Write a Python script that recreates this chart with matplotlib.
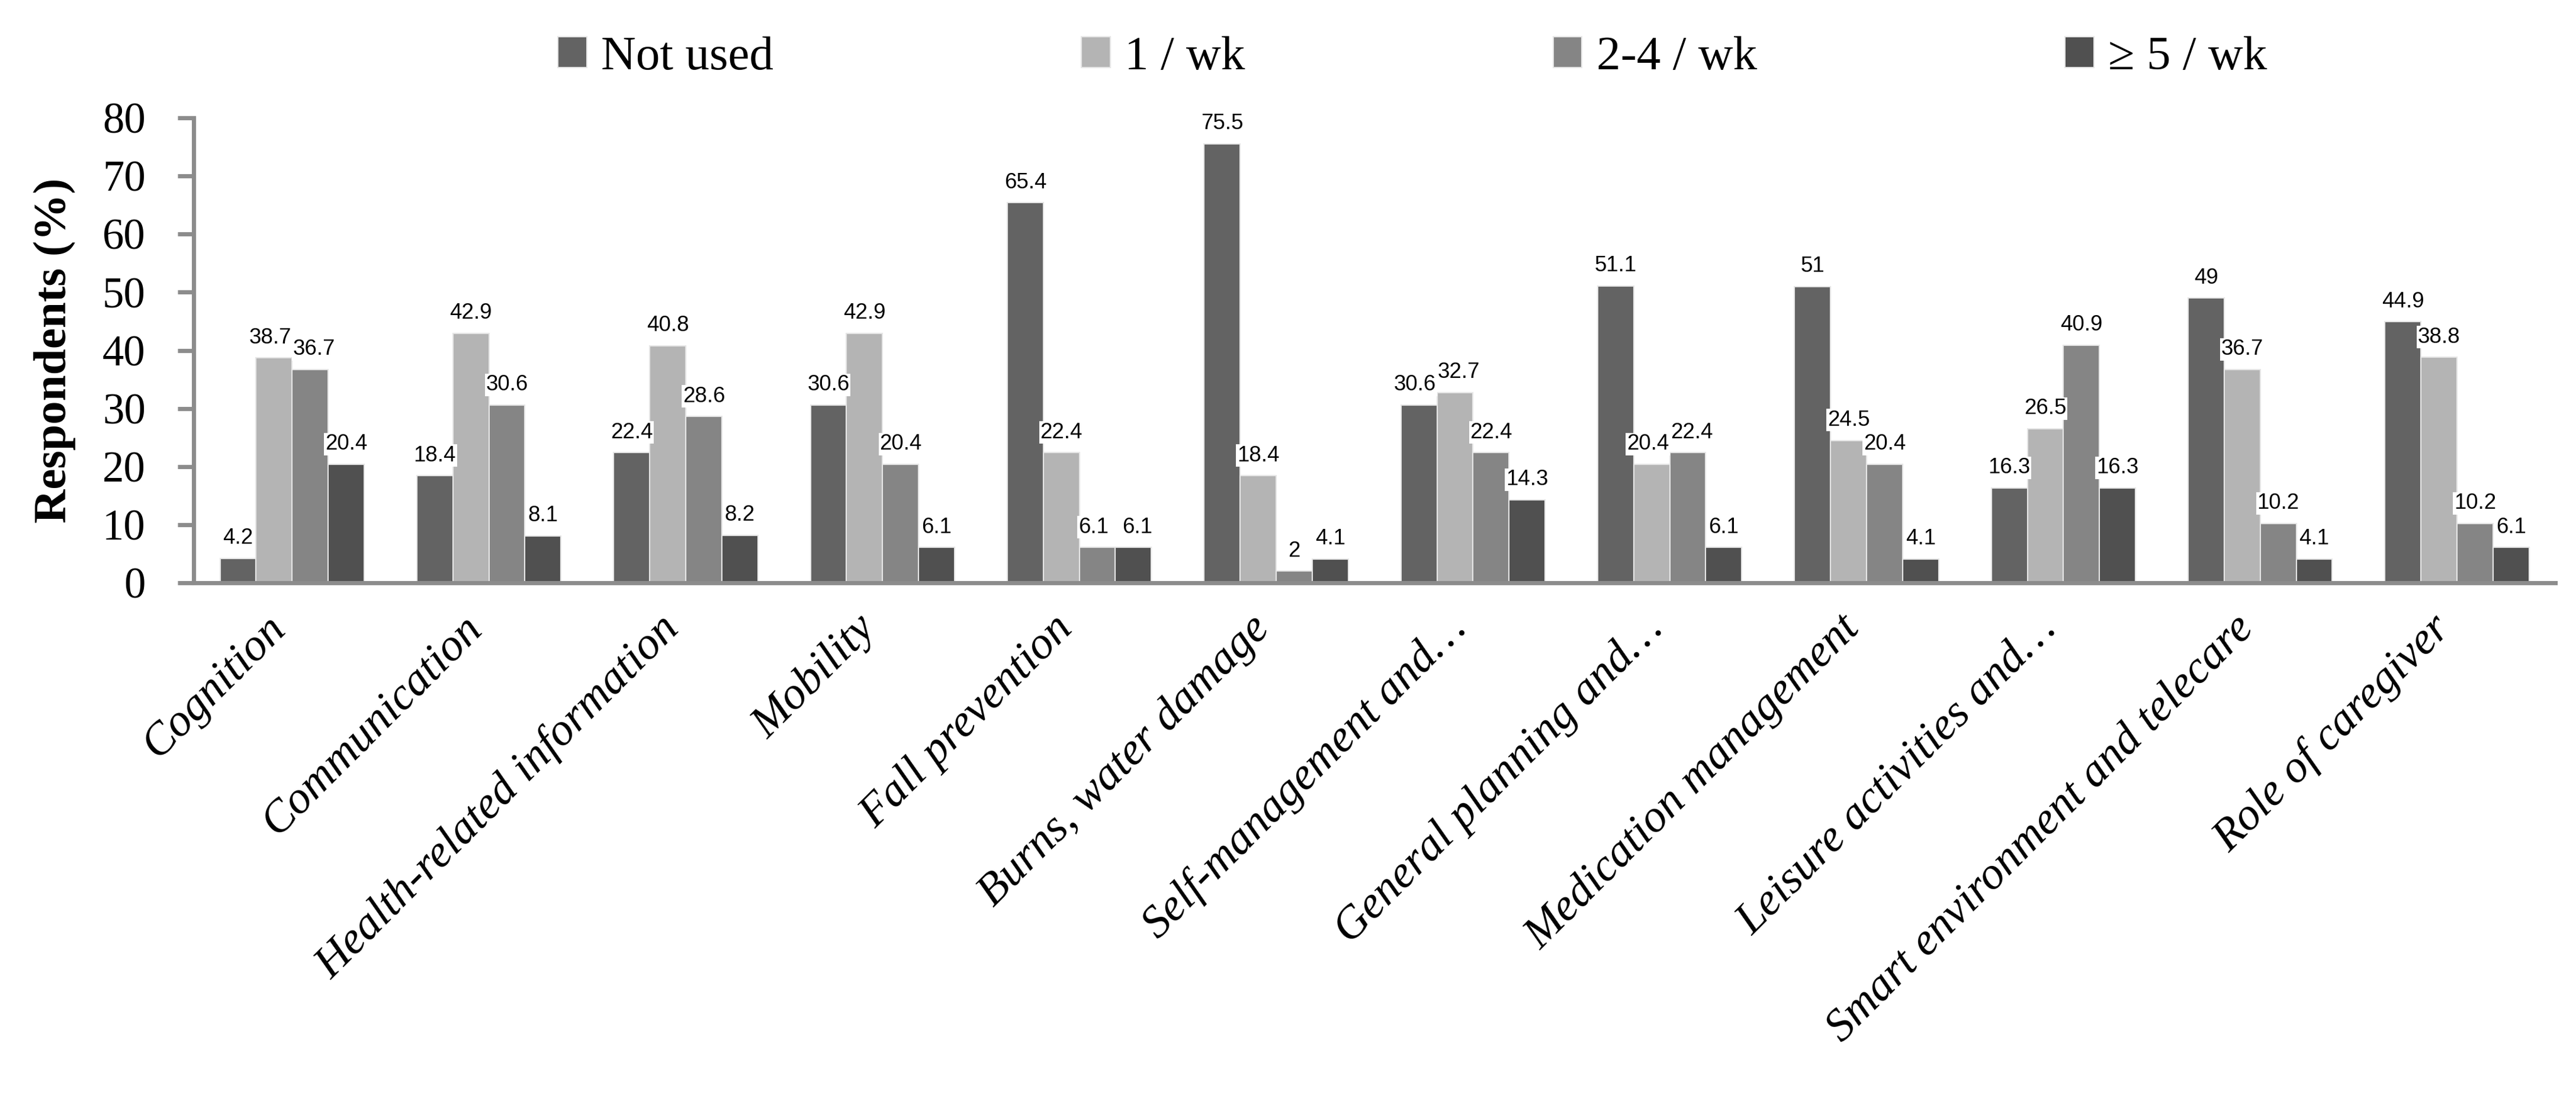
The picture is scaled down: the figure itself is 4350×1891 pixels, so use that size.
import matplotlib
matplotlib.use('Agg')
import matplotlib.pyplot as plt
import matplotlib.transforms as mtransforms
import numpy as np

categories = ['Cognition', 'Communication', 'Health-related information', 'Mobility',
              'Fall prevention', 'Burns, water damage', 'Self-management and\u2026',
              'General planning and\u2026', 'Medication management',
              'Leisure activities and\u2026', 'Smart environment and telecare',
              'Role of caregiver']
series_names = ['Not used', '1 / wk', '2-4 / wk', '\u2265 5 / wk']
not_used = [4.2, 18.4, 22.4, 30.6, 65.4, 75.5, 30.6, 51.1, 51, 16.3, 49, 44.9]
once_wk = [38.7, 42.9, 40.8, 42.9, 22.4, 18.4, 32.7, 20.4, 24.5, 26.5, 36.7, 38.8]
two_four_wk = [36.7, 30.6, 28.6, 20.4, 6.1, 2, 22.4, 22.4, 20.4, 40.9, 10.2, 10.2]
five_plus_wk = [20.4, 8.1, 8.2, 6.1, 6.1, 4.1, 14.3, 6.1, 4.1, 16.3, 4.1, 6.1]
y_ticks = [0, 10, 20, 30, 40, 50, 60, 70, 80]

colors = ['#636363', '#b4b4b4', '#858585', '#505050']
serif = ['Liberation Serif', 'DejaVu Serif']
label_font = ['Liberation Sans', 'DejaVu Sans']
axis_grey = '#8c8c8c'

fig = plt.figure(figsize=(14.5, 1891 / 300), dpi=300)
ax = fig.add_axes([0.0752, 0.4796, 0.9168, 0.4152])

x = np.arange(len(categories))
width = 0.183
all_series = [not_used, once_wk, two_four_wk, five_plus_wk]
vals_arr = np.array(all_series)

# small sideways nudge for neighbouring labels at about the same height
nudge = np.zeros_like(vals_arr)
for g in range(len(categories)):
    for i in range(3):
        a, b = vals_arr[i, g], vals_arr[i + 1, g]
        if abs(a - b) < 3.5 and min(a, b) >= 3:
            nudge[i, g] -= 1.6
            nudge[i + 1, g] += 1.6

for i, (name, vals) in enumerate(zip(series_names, all_series)):
    pos = x + (i - 1.5) * width
    bars = ax.bar(pos, vals, width, color=colors[i], edgecolor='#e6e6e6',
                  linewidth=0.5, label=name, zorder=2)
    for g, (b, v) in enumerate(zip(bars, vals)):
        ax.annotate(f'{v:g}', (b.get_x() + b.get_width() / 2, v),
                    xytext=(nudge[i, g], 4), textcoords='offset points',
                    ha='center', va='bottom', fontsize=8.8, family=label_font,
                    zorder=3,
                    bbox=dict(boxstyle='square,pad=0.04', fc='white', ec='none'))

ax.set_xlim(-0.5, len(categories) - 0.5)
ax.set_ylim(0, 80)
ax.set_yticks(y_ticks)
ax.set_yticklabels([str(t) for t in y_ticks], family=serif, fontsize=17.5)
ax.tick_params(axis='y', length=6.5, width=1.7, color=axis_grey, pad=13)
ax.set_xticks(x)
ax.set_xticklabels(categories, family=serif, style='italic', fontsize=18.5,
                   rotation=45, ha='right', va='center', rotation_mode='anchor')
ax.tick_params(axis='x', length=0, pad=16)
shift = mtransforms.ScaledTranslation(-22 / 300, 0, fig.dpi_scale_trans)
for lbl in ax.get_xticklabels():
    lbl.set_transform(lbl.get_transform() + shift)

for side in ['top', 'right']:
    ax.spines[side].set_visible(False)
for side in ['left', 'bottom']:
    ax.spines[side].set_color(axis_grey)
    ax.spines[side].set_linewidth(1.7)
    ax.spines[side].set_zorder(4)

ax.set_ylabel('Respondents (%)', family=serif, fontweight='bold', fontsize=19)
ax.yaxis.set_label_coords(-0.05, 0.5)

fig.legend(loc='center', bbox_to_anchor=(2385 / 4350, 1 - 97 / 1891), ncol=4,
           frameon=False, prop={'family': serif, 'size': 19.5},
           handlelength=0.6, handleheight=0.6, handletextpad=0.3,
           columnspacing=6.4)

fig.savefig('out.png', dpi=300, facecolor='white')
